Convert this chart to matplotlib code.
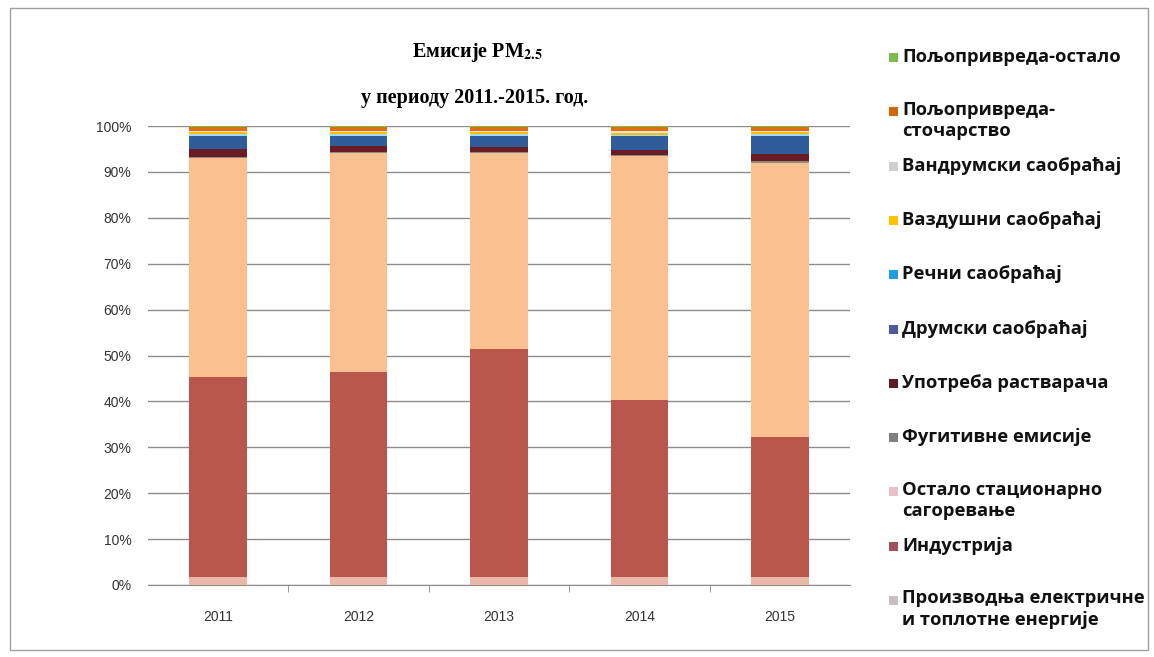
import numpy as np
import matplotlib
matplotlib.use("Agg")
import matplotlib.pyplot as plt
from matplotlib.patches import Rectangle

years = ["2011", "2012", "2013", "2014", "2015"]

# series, bottom to top (percent shares)
proizvodnja   = [1.7, 1.7, 1.7, 1.7, 1.7]
industrija    = [43.6, 44.8, 49.8, 38.6, 30.5]
ostalo_stac   = [47.7, 47.7, 42.6, 53.1, 59.6]
fugitivne     = [0.2, 0.2, 0.3, 0.2, 0.5]
rastvaraci    = [1.8, 1.3, 0.95, 1.1, 1.65]
drumski       = [2.9, 2.2, 2.55, 3.1, 3.85]
recni         = [0.3, 0.3, 0.3, 0.3, 0.35]
vazdusni      = [0.4, 0.4, 0.4, 0.4, 0.4]
vandrumski    = [0.4, 0.4, 0.4, 0.5, 0.4]
stocarstvo    = [0.8, 0.8, 0.8, 0.8, 0.8]
poljo_ostalo  = [0.2, 0.2, 0.2, 0.2, 0.2]

labels = [
    "Производња електричне\nи топлотне енергије",
    "Индустрија",
    "Остало стационарно\nсагоревање",
    "Фугитивне емисије",
    "Употреба растварача",
    "Друмски саобраћај",
    "Речни саобраћај",
    "Ваздушни саобраћај",
    "Вандрумски саобраћај",
    "Пољопривреда-\nсточарство",
    "Пољопривреда-остало",
]
series = [proizvodnja, industrija, ostalo_stac, fugitivne, rastvaraci, drumski,
          recni, vazdusni, vandrumski, stocarstvo, poljo_ostalo]
bar_colors = ["#EBB8AA", "#B9574C", "#FAC08F", "#8C8A78", "#6A1B24", "#2F5D9C",
              "#A8D8F0", "#FFC000", "#E4E4E4", "#E46C0A", "#7EB94C"]
legend_colors = ["#C8C0C0", "#A0505A", "#E8C0C8", "#7F7F7F", "#5A1A28", "#4A5A9A",
                 "#1EA0E0", "#FFC000", "#D0D0D0", "#D0680A", "#7EB94C"]

data = np.array(series, dtype=float)
data = data / data.sum(axis=0) * 100.0

W, H = 1154, 657
fig = plt.figure(figsize=(W / 100, H / 100), dpi=100)
fig.patch.set_facecolor("white")

# outer frame
fig.add_artist(Rectangle((10 / W, 1 - 650 / H), 1138 / W, 642 / H, transform=fig.transFigure,
                         fill=False, edgecolor="#A0A0A0", linewidth=1.0))

ax = fig.add_axes([148 / W, 1 - 585 / H, 702 / W, (585 - 126) / H])
x = np.arange(len(years))
bottom = np.zeros(len(years))
for vals, col in zip(data, bar_colors):
    ax.bar(x, vals, width=0.41, bottom=bottom, color=col, edgecolor="none", zorder=3)
    bottom += vals

ax.set_xlim(-0.5, 4.5)
ax.set_ylim(0, 100)
ax.set_yticks(np.arange(0, 101, 10))
ax.set_yticklabels([f"{v}%" for v in range(0, 101, 10)], fontsize=10, color="#333333",
                   family="Liberation Sans")
ax.yaxis.grid(True, color="#8C8C8C", linewidth=1.0, zorder=0)
ax.set_axisbelow(True)
ax.set_xticks(x)
ax.set_xticklabels(years, fontsize=10, color="#333333", family="Liberation Sans")
ax.tick_params(axis="x", which="major", length=0, pad=18)
ax.set_xticks([0.5, 1.5, 2.5, 3.5], minor=True)
ax.tick_params(axis="x", which="minor", length=5, color="#8C8C8C", direction="out")
ax.tick_params(axis="y", length=0, pad=12)
for s in ["top", "right", "left"]:
    ax.spines[s].set_visible(False)
ax.spines["bottom"].set_color("#8C8C8C")

# title
plt.rcParams["mathtext.fontset"] = "stix"
fig.text(477 / W, 1 - 52 / H, r"Емисије PM$_{\mathbf{2.5}}$", ha="center", va="center",
         fontsize=14.5, fontweight="bold", family="Liberation Serif")
fig.text(475 / W, 1 - 98 / H, "у периоду 2011.-2015. год.", ha="center", va="center",
         fontsize=14.5, fontweight="bold", family="Liberation Serif")

# legend (top entry = last series)
for i, (lab, col) in enumerate(zip(labels[::-1], legend_colors[::-1])):
    yc = 57 + i * 54.3
    fig.add_artist(Rectangle((889 / W, 1 - (yc + 5) / H), 9 / W, 9 / H,
                             transform=fig.transFigure, facecolor=col, edgecolor="none"))
    nlines = lab.count("\n") + 1
    ytxt = yc if nlines == 1 else yc + 9
    fig.text(902 / W, 1 - ytxt / H, lab, ha="left", va="center", fontsize=13.2,
             fontweight="bold", family="Open Sans", color="#111111", linespacing=1.25)

fig.savefig("out.png", dpi=100, facecolor="white")
